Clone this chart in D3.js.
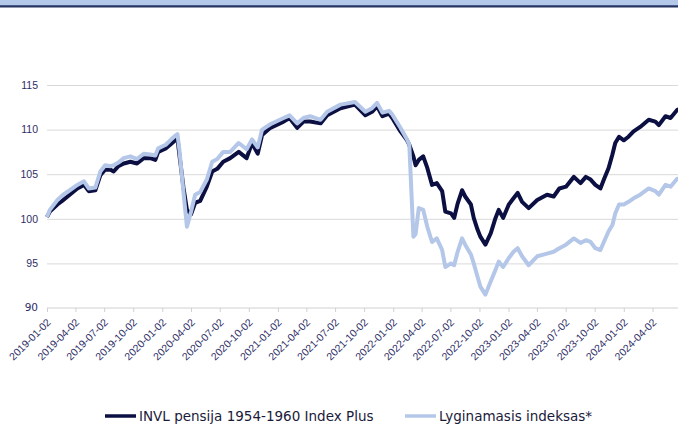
<!DOCTYPE html>
<html>
<head>
<meta charset="utf-8">
<script src="https://cdn.jsdelivr.net/npm/d3@7"></script>
<style>
  body { margin: 0; background: #fff; }
  svg { display: block; font-family: "DejaVu Sans", Verdana, sans-serif; }
</style>
</head>
<body>
<div id="chart"></div>
<script>
// values
var dates = ["2019-01-02","2019-01-11","2019-02-04","2019-02-22","2019-03-15","2019-04-08","2019-04-29","2019-05-14","2019-06-04","2019-06-20",
  "2019-07-05","2019-07-22","2019-08-01","2019-08-16","2019-09-02","2019-09-23","2019-10-14","2019-11-04","2019-11-25","2019-12-11",
  "2019-12-20","2020-01-13","2020-01-27","2020-02-12","2020-02-19","2020-02-25","2020-03-09","2020-03-20","2020-04-02","2020-04-15",
  "2020-05-01","2020-05-22","2020-06-08","2020-06-24","2020-07-13","2020-08-04","2020-08-31","2020-09-25","2020-10-12","2020-10-30",
  "2020-11-13","2020-12-09","2021-01-20","2021-02-08","2021-03-04","2021-03-24","2021-04-14","2021-05-17","2021-06-07","2021-07-19",
  "2021-09-03","2021-10-06","2021-10-27","2021-11-12","2021-11-29","2021-12-20","2021-12-30","2022-01-25","2022-02-15","2022-02-22",
  "2022-03-07","2022-03-14","2022-03-24","2022-04-07","2022-04-20","2022-05-05","2022-05-20","2022-06-06","2022-06-16","2022-07-04",
  "2022-07-14","2022-07-25","2022-08-08","2022-08-18","2022-09-05","2022-09-14","2022-09-26","2022-10-05","2022-10-21","2022-11-07",
  "2022-11-22","2022-12-02","2022-12-16","2023-01-03","2023-01-18","2023-01-31","2023-02-14","2023-03-07","2023-04-03","2023-05-04",
  "2023-05-25","2023-06-12","2023-07-03","2023-07-28","2023-08-18","2023-09-04","2023-09-19","2023-10-04","2023-10-20","2023-10-31",
  "2023-11-15","2023-11-27","2023-12-06","2023-12-18","2024-01-02","2024-01-17","2024-02-02","2024-02-23","2024-03-21","2024-04-11",
  "2024-04-22","2024-05-13","2024-05-29","2024-06-19","2024-06-28"];

var invl = [100.2,100.8,101.6,102.1,102.7,103.4,103.8,103.1,103.2,104.9,
  105.5,105.5,105.3,105.9,106.2,106.4,106.2,106.8,106.8,106.6,
  107.5,107.9,108.3,108.8,109.0,107.2,103.5,101.0,100.5,101.8,
  102.0,103.6,105.3,105.6,106.4,106.8,107.5,106.8,108.5,107.3,
  109.4,110.2,110.9,111.3,110.2,110.9,110.9,110.7,111.6,112.4,
  112.8,111.6,112.0,112.6,111.5,111.8,111.3,109.8,108.8,108.3,
  107.0,106.0,106.6,107.0,105.7,103.8,104.0,103.1,100.8,100.6,
  100.1,101.7,103.2,102.5,101.6,100.1,98.8,98.0,97.1,98.4,
  100.1,101.0,100.1,101.6,102.3,102.9,101.9,101.2,102.1,102.7,
  102.5,103.4,103.6,104.7,104.0,104.7,104.4,103.8,103.4,104.4,
  105.7,107.2,108.5,109.2,108.8,109.2,109.8,110.3,111.1,110.9,
  110.5,111.5,111.3,112.2,112.3];

var bench = [100.2,101.0,102.1,102.7,103.2,103.8,104.2,103.4,103.5,105.3,
  106.0,105.9,106.0,106.3,106.8,107.0,106.7,107.3,107.2,107.1,
  107.9,108.3,108.8,109.3,109.5,107.8,103.0,99.1,100.8,102.7,
  103.0,104.4,106.4,106.7,107.5,107.5,108.5,107.8,108.9,108.0,
  110.0,110.6,111.3,111.6,110.7,111.3,111.5,111.1,112.0,112.8,
  113.1,112.0,112.4,113.0,111.9,112.1,111.7,110.2,108.9,108.3,
  98.0,98.3,101.2,101.0,99.1,97.4,97.8,96.5,94.6,95.0,
  94.8,96.3,97.8,97.1,96.0,95.0,93.5,92.4,91.5,93.0,
  94.3,95.2,94.6,95.6,96.3,96.7,95.8,94.8,95.8,96.1,
  96.3,96.7,97.1,97.8,97.3,97.6,97.4,96.7,96.5,97.4,
  98.6,99.3,100.6,101.6,101.6,101.9,102.3,102.7,103.4,103.1,
  102.7,103.8,103.6,104.5,104.4];

var seriesNames = ["INVL pensija 1954-1960 Index Plus", "Lyginamasis indeksas*"];
var seriesColors = ["#0b0f42", "#b4c7e9"];
var tickDates = ["2019-01-02","2019-04-02","2019-07-02","2019-10-02","2020-01-02","2020-04-02","2020-07-02","2020-10-02",
  "2021-01-02","2021-04-02","2021-07-02","2021-10-02","2022-01-02","2022-04-02","2022-07-02","2022-10-02",
  "2023-01-02","2023-04-02","2023-07-02","2023-10-02","2024-01-02","2024-04-02"];
var yTicks = [90, 95, 100, 105, 110, 115];

var W = 678, H = 425;
var plotLeft = 47, plotRight = 680, plotTop = 85, plotBottom = 308;
var parse = d3.timeParse("%Y-%m-%d");
var fmt = d3.timeFormat("%Y-%m-%d");

var svg = d3.select("#chart").append("svg")
    .attr("width", W)
    .attr("height", H);

// top banner
svg.append("rect").attr("x", 0).attr("y", 0).attr("width", W).attr("height", 5).attr("fill", "#b4c8ea");
svg.append("rect").attr("x", 0).attr("y", 5).attr("width", W).attr("height", 1).attr("fill", "#4a5a8a");
svg.append("rect").attr("x", 0).attr("y", 6).attr("width", W).attr("height", 1.5).attr("fill", "#26355f");

var x = d3.scaleTime()
    .domain([parse(dates[0]), parse(dates[dates.length - 1])])
    .range([plotLeft, plotRight]);
var y = d3.scaleLinear()
    .domain([90, 115])
    .range([plotBottom, plotTop]);

// grid + y labels
var yAxis = svg.append("g")
    .attr("transform", "translate(" + plotLeft + ",0)")
    .call(d3.axisLeft(y).tickValues(yTicks.slice(1)).tickSize(-(W - plotLeft)).tickPadding(9));
yAxis.select(".domain").remove();
yAxis.selectAll(".tick line").attr("stroke", "#d9d9d9");
yAxis.selectAll(".tick text")
    .attr("fill", "#2e2e66")
    .style("font-size", "10.5px");

// x axis (the 90 label sits on its line)
var xAxis = svg.append("g")
    .attr("transform", "translate(0," + plotBottom + ")")
    .call(d3.axisBottom(x)
        .tickValues(tickDates.map(parse))
        .tickFormat(fmt)
        .tickSize(4));
xAxis.select(".domain").attr("stroke", "#d0d0d0").attr("d", "M" + plotLeft + ",0H" + W);
xAxis.selectAll(".tick line").attr("stroke", "#d0d0d0");
xAxis.selectAll(".tick text")
    .attr("x", 0)
    .attr("y", 0)
    .attr("dy", 0)
    .attr("transform", "translate(4,15) rotate(-45)")
    .style("text-anchor", "end")
    .style("font-size", "10.5px")
    .attr("fill", "#2e2e66");

svg.append("text")
    .attr("x", plotLeft - 9)
    .attr("y", y(yTicks[0]))
    .attr("dy", "0.32em")
    .attr("text-anchor", "end")
    .attr("fill", "#2e2e66")
    .style("font-size", "10.5px")
    .text(yTicks[0]);

var series = [invl, bench];
var line = d3.line()
    .x(function(d, i) { return x(parse(dates[i])); })
    .y(function(d) { return y(d); });

svg.selectAll("path.series")
    .data(series)
    .enter().append("path")
    .attr("class", "series")
    .attr("d", line)
    .attr("fill", "none")
    .attr("stroke", function(d, i) { return seriesColors[i]; })
    .attr("stroke-width", 4)
    .attr("stroke-linejoin", "round");

// legend
var legendX = [105, 405];
var legend = svg.selectAll("g.legend")
    .data(seriesNames)
    .enter().append("g")
    .attr("class", "legend")
    .attr("transform", function(d, i) { return "translate(" + legendX[i] + ",416)"; });
legend.append("line")
    .attr("x1", 0).attr("x2", 31)
    .attr("stroke", function(d, i) { return seriesColors[i]; })
    .attr("stroke-width", 3.5);
legend.append("text")
    .attr("x", 34)
    .attr("dy", "0.35em")
    .style("font-size", "13.5px")
    .attr("fill", "#1a1a3a")
    .text(function(d) { return d; });
</script>
</body>
</html>
